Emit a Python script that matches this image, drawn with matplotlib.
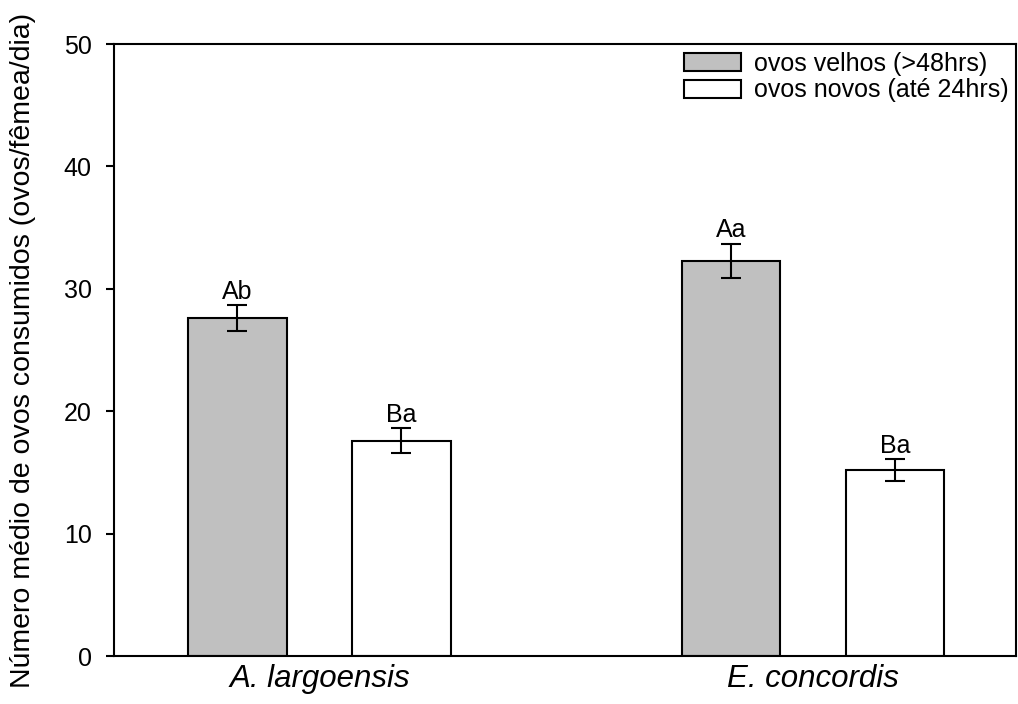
import matplotlib.pyplot as plt
import numpy as np

plt.rcParams['font.family'] = ['Liberation Sans', 'DejaVu Sans']

# mean eggs consumed per female per day, with standard errors
species = ['A. largoensis', 'E. concordis']
old_eggs = [27.6, 32.3]
old_err = [1.05, 1.4]
new_eggs = [17.6, 15.2]
new_err = [1.0, 0.9]
old_letters = ['Ab', 'Aa']
new_letters = ['Ba', 'Ba']
legend_labels = ['ovos velhos (>48hrs)', 'ovos novos (até 24hrs)']

fig = plt.figure(figsize=(10.18, 7.04), dpi=100)
ax = fig.add_axes([0.112, 0.068, 0.886, 0.8695])

ind = np.arange(len(species))
width = 0.2
offset = 0.166

rects1 = ax.bar(ind - offset, old_eggs, width, color='#c0c0c0', edgecolor='black',
                linewidth=1.5, yerr=old_err,
                error_kw=dict(ecolor='black', elinewidth=1.5, capsize=7, capthick=1.5))
rects2 = ax.bar(ind + offset, new_eggs, width, color='white', edgecolor='black',
                linewidth=1.5, yerr=new_err,
                error_kw=dict(ecolor='black', elinewidth=1.5, capsize=7, capthick=1.5))

for rects, vals, errs, letters in [(rects1, old_eggs, old_err, old_letters),
                                   (rects2, new_eggs, new_err, new_letters)]:
    for rect, v, e, s in zip(rects, vals, errs, letters):
        ax.text(rect.get_x() + rect.get_width() / 2., v + e + 0.1, s,
                ha='center', va='bottom', fontsize=18)

ax.set_xlim(-0.416, 1.411)
ax.set_ylim(0, 50)
ax.set_yticks(np.arange(0, 51, 10))
ax.set_xticks(ind)
ax.set_xticklabels(species, fontsize=22.5, style='italic')
ax.tick_params(axis='x', length=0, pad=6)
ax.tick_params(axis='y', labelsize=18, width=1.5, length=6, direction='out', pad=10)
ax.set_ylabel('Número médio de ovos consumidos (ovos/fêmea/dia)', fontsize=20.5, labelpad=20)
for sp in ax.spines.values():
    sp.set_linewidth(1.5)

ax.legend((rects1[0], rects2[0]), legend_labels, loc='upper right', frameon=False,
          fontsize=18, handlelength=2.3, handleheight=0.72, handletextpad=0.5,
          borderaxespad=0.0, borderpad=0.3, labelspacing=0.12)

plt.savefig('out.png', dpi=100)
